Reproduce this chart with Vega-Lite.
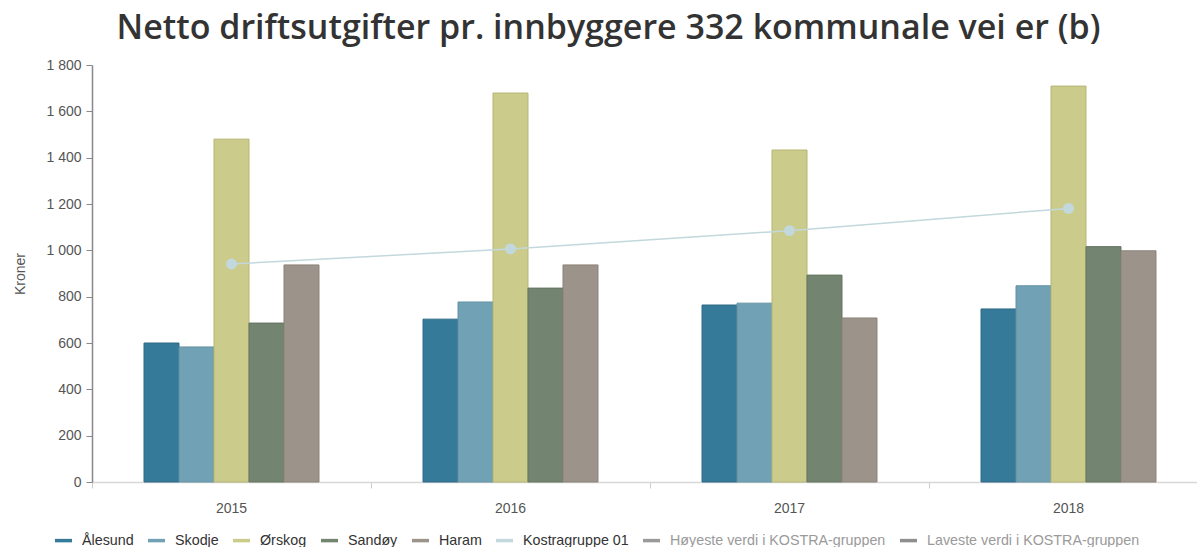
{
  "$schema": "https://vega.github.io/schema/vega-lite/v6.json",
  "width": 1105,
  "height": 417,
  "autosize": "none",
  "padding": {"left": 92, "top": 65, "right": 0, "bottom": 65},
  "background": "white",
  "title": {
    "text": "Netto driftsutgifter pr. innbyggere 332 kommunale vei er (b)",
    "font": "Open Sans",
    "fontSize": 34,
    "fontWeight": 600,
    "color": "#333333",
    "anchor": "middle",
    "dx": -36,
    "offset": 12
  },
  "config": {
    "view": {"stroke": null},
    "font": "Liberation Sans"
  },
  "data": {
    "values": [
      {"year": "2015", "serie": "Ålesund", "value": 600},
      {"year": "2015", "serie": "Skodje", "value": 583},
      {"year": "2015", "serie": "Ørskog", "value": 1480},
      {"year": "2015", "serie": "Sandøy", "value": 686},
      {"year": "2015", "serie": "Haram", "value": 937},
      {"year": "2015", "serie": "Kostragruppe 01", "value": 941},
      {"year": "2016", "serie": "Ålesund", "value": 703},
      {"year": "2016", "serie": "Skodje", "value": 777},
      {"year": "2016", "serie": "Ørskog", "value": 1679},
      {"year": "2016", "serie": "Sandøy", "value": 837},
      {"year": "2016", "serie": "Haram", "value": 937},
      {"year": "2016", "serie": "Kostragruppe 01", "value": 1006},
      {"year": "2017", "serie": "Ålesund", "value": 764},
      {"year": "2017", "serie": "Skodje", "value": 772},
      {"year": "2017", "serie": "Ørskog", "value": 1433},
      {"year": "2017", "serie": "Sandøy", "value": 893},
      {"year": "2017", "serie": "Haram", "value": 708},
      {"year": "2017", "serie": "Kostragruppe 01", "value": 1085},
      {"year": "2018", "serie": "Ålesund", "value": 747},
      {"year": "2018", "serie": "Skodje", "value": 847},
      {"year": "2018", "serie": "Ørskog", "value": 1709},
      {"year": "2018", "serie": "Sandøy", "value": 1016},
      {"year": "2018", "serie": "Haram", "value": 998},
      {"year": "2018", "serie": "Kostragruppe 01", "value": 1181}
    ]
  },
  "encoding": {
    "x": {
      "field": "year",
      "type": "ordinal",
      "scale": {"range": [0, 1116], "paddingInner": 0, "paddingOuter": 0},
      "axis": {
        "title": null,
        "labelAngle": 0,
        "bandPosition": 0,
        "labelFont": "Liberation Sans",
        "labelFontSize": 14,
        "labelColor": "#555555",
        "labelPadding": 13,
        "tickSize": 6,
        "tickColor": "#cccccc",
        "domainColor": "#d8d8d8",
        "domainWidth": 1.5
      }
    },
    "y": {
      "field": "value",
      "type": "quantitative",
      "scale": {"domain": [0, 1800]},
      "axis": {
        "title": "Kroner",
        "titleFont": "Liberation Sans",
        "titleFontSize": 14,
        "titleFontWeight": "normal",
        "titleColor": "#555555",
        "titlePadding": 18,
        "values": [0, 200, 400, 600, 800, 1000, 1200, 1400, 1600, 1800],
        "labelExpr": "replace(format(datum.value, ','), ',', ' ')",
        "labelFont": "Liberation Sans",
        "labelFontSize": 14,
        "labelColor": "#555555",
        "labelPadding": 5,
        "tickSize": 6,
        "tickColor": "#888888",
        "domainColor": "#888888",
        "domainWidth": 1.5,
        "grid": false
      }
    },
    "color": {
      "field": "serie",
      "type": "nominal",
      "scale": {
        "domain": ["Ålesund", "Skodje", "Ørskog", "Sandøy", "Haram", "Kostragruppe 01", "Høyeste verdi i KOSTRA-gruppen", "Laveste verdi i KOSTRA-gruppen"],
        "range": ["#367a99", "#70a1b4", "#cbcb8b", "#738470", "#9c948a", "#c2d8dc", "#9a9a9a", "#8f8f8f"]
      },
      "legend": {
        "title": null,
        "orient": "none",
        "legendX": -39,
        "legendY": 465,
        "direction": "horizontal",
        "symbolType": "stroke",
        "symbolSize": 289,
        "symbolStrokeWidth": 3.5,
        "labelFont": "Liberation Sans",
        "labelFontSize": 14.3,
        "labelLimit": 400,
        "labelColor": "#333333",
        "labelOffset": 8,
        "columnPadding": 7,
        "encode": {
          "labels": {
            "update": {
              "fill": {"signal": "indexof(datum.value, 'KOSTRA-gruppen') >= 0 ? '#9a9a9a' : '#333333'"}
            }
          }
        }
      }
    }
  },
  "layer": [
    {
      "transform": [{"filter": "datum.serie != 'Kostragruppe 01'"}],
      "mark": {"type": "bar", "strokeWidth": 1},
      "encoding": {
        "xOffset": {
          "field": "serie",
          "type": "nominal",
          "scale": {
            "domain": [" a", "Ålesund", "Skodje", "Ørskog", "Sandøy", "Haram", " b"],
            "paddingInner": 0,
            "paddingOuter": 0.486
          }
        },
        "stroke": {
          "field": "serie",
          "type": "nominal",
          "scale": {
            "domain": ["Ålesund", "Skodje", "Ørskog", "Sandøy", "Haram"],
            "range": ["#2f6b87", "#6492a4", "#b5b575", "#64745f", "#8b8379"]
          },
          "legend": null
        }
      }
    },
    {
      "transform": [{"filter": "datum.serie == 'Kostragruppe 01'"}],
      "mark": {"type": "line", "strokeWidth": 1.5, "point": {"size": 120, "filled": true, "opacity": 1}},
      "encoding": {}
    }
  ]
}
